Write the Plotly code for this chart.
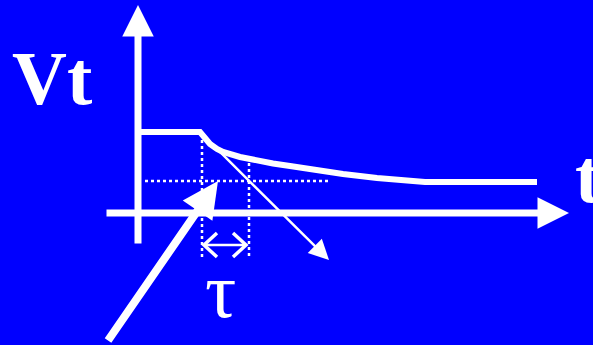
import plotly.graph_objects as go

# decay curve of Vt (pixel units, y downwards)
t_vals = [140, 200, 205, 210, 217, 223, 240, 257, 273, 290, 310, 343, 377, 410, 425, 537]
v_vals = [132, 132, 138, 144, 149, 152, 157, 161, 163.5, 166, 169.5, 174, 178, 181, 182, 182]

BLUE = "#0000FF"
W = "white"

fig = go.Figure()
fig.add_trace(go.Scatter(x=t_vals, y=v_vals, mode="lines",
                         line=dict(color=W, width=6), hoverinfo="skip"))


def arrow(x0, y0, x1, y1, w, head=2, size=1.0):
    fig.add_annotation(x=x1, y=y1, ax=x0, ay=y0, xref="x", yref="y",
                       axref="x", ayref="y", text="", showarrow=True,
                       arrowcolor=W, arrowwidth=w, arrowhead=head,
                       arrowsize=size, standoff=0, startstandoff=0)


# axes
arrow(138, 245, 138, 5, 7, size=0.9)
arrow(105, 213, 569, 213, 7, size=0.9)
# tangent
arrow(218, 150, 329, 260, 2.5, size=1.6)
# pointer to the 1/e level
arrow(107, 342, 218, 181, 8, size=0.9)

# tau span (double arrow)
fig.add_shape(type="line", x0=206, y0=245, x1=244, y1=245,
              line=dict(color=W, width=2.5))
for p in ["M 217,233 L 204,245 L 217,257", "M 233,233 L 246,245 L 233,257"]:
    fig.add_shape(type="path", path=p, line=dict(color=W, width=3.5))

# dotted guides
for x0, y0, x1, y1 in [(145, 181, 330, 181), (202, 140, 202, 257), (249, 163, 249, 257)]:
    fig.add_shape(type="line", x0=x0, y0=y0, x1=x1, y1=y1, xref="x", yref="y",
                  line=dict(color=W, width=2.5, dash="dot"))

fig.add_annotation(x=52, y=78, text="<b>Vt</b>", showarrow=False,
                   font=dict(family="Liberation Serif", size=76, color=W))
fig.add_annotation(x=573, y=176, text="<b>t</b>", showarrow=False, xanchor="left",
                   font=dict(family="Liberation Serif", size=76, color=W))
fig.add_annotation(x=220, y=290, text="τ", showarrow=False,
                   font=dict(family="Liberation Serif", size=78, color=W))

fig.update_xaxes(range=[0, 593], visible=False, fixedrange=True)
fig.update_yaxes(range=[345, 0], visible=False, fixedrange=True)
fig.update_layout(width=593, height=345, margin=dict(l=0, r=0, t=0, b=0),
                  plot_bgcolor=BLUE, paper_bgcolor=BLUE, showlegend=False)

fig.write_html("out.html", config={"displayModeBar": False},
               post_script="document.body.style.margin='0';"
                           "document.body.style.background='#0000FF';")
